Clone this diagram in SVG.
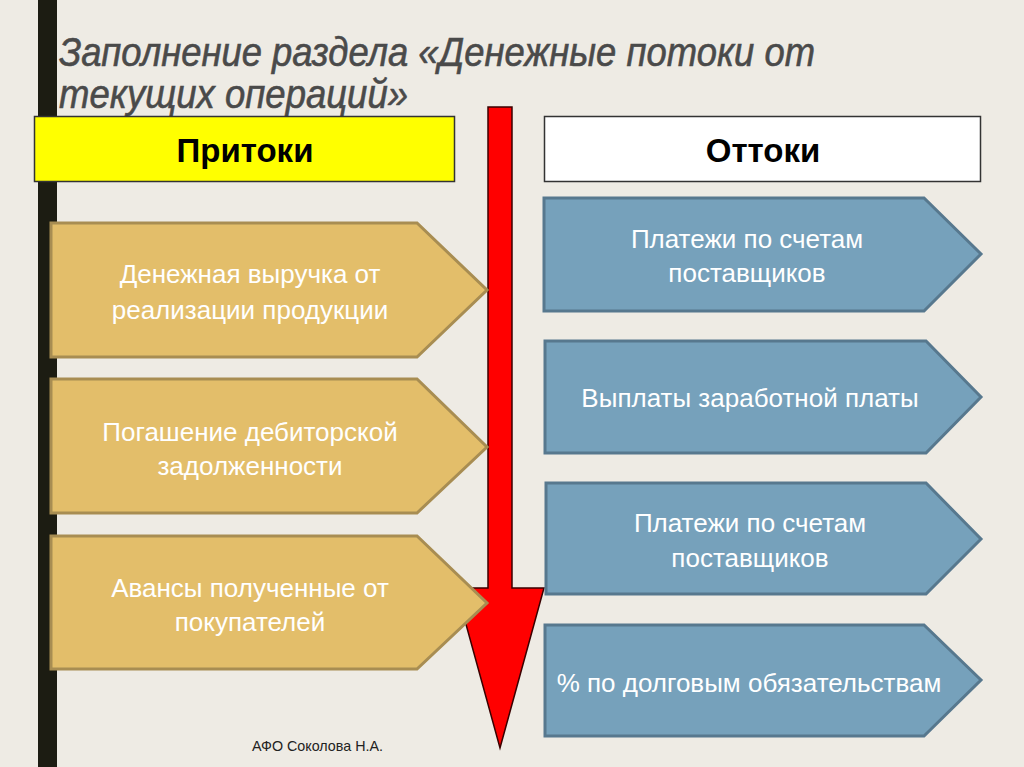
<svg xmlns="http://www.w3.org/2000/svg" width="1024" height="767" viewBox="0 0 1024 767">
<style>
.title{font-family:"Liberation Sans",Arial,sans-serif;font-style:italic;font-size:41px;fill:#4A4A4A;stroke:#4A4A4A;stroke-width:0.6}
.hdr{font-family:"Liberation Sans",Arial,sans-serif;font-weight:bold;font-size:33px;fill:#000;text-anchor:middle}
.tan{fill:#E3BE6A;stroke:#A88D52;stroke-width:3}
.blue{fill:#76A1BB;stroke:#57788E;stroke-width:3}
.lbl{font-family:"Liberation Sans",Arial,sans-serif;font-size:26px;fill:#FFFFFF;text-anchor:middle}
.foot{font-family:"Liberation Sans",Arial,sans-serif;font-size:14.3px;fill:#222}
</style>
<rect x="0" y="0" width="1024" height="767" fill="#EEEBE4"/>
<rect x="38" y="0" width="19" height="767" fill="#1C1C12"/>
<g id="title">
<text class="title" x="59" y="66" textLength="756" lengthAdjust="spacingAndGlyphs">Заполнение раздела «Денежные потоки от</text>
<text class="title" x="59" y="108" textLength="349" lengthAdjust="spacingAndGlyphs">текущих операций»</text>
</g>
<g id="hdr-in">
<rect x="34.5" y="116.5" width="420" height="65" fill="#FFFF00" stroke="#333" stroke-width="1.5"/>
<text class="hdr" x="245" y="162">Притоки</text>
</g>
<g id="hdr-out">
<rect x="544.5" y="116.5" width="436" height="65" fill="#FFFFFF" stroke="#333" stroke-width="1.5"/>
<text class="hdr" x="763" y="162">Оттоки</text>
</g>
<g id="connectors">
<polygon points="488,107 512,107 512,588 544,588 500,748 456,588 488,588" fill="#FF0000" stroke="#3A0000" stroke-width="1.5"/>
</g>
<g id="in1">
<polygon class="tan" points="51,223 417,223 487,290 417,357 51,357"/>
<text class="lbl" x="250" y="283">Денежная выручка от</text>
<text class="lbl" x="250" y="319">реализации продукции</text>
</g>
<g id="in2">
<polygon class="tan" points="51,379 417,379 487,447 417,513 51,513"/>
<text class="lbl" x="250" y="441">Погашение дебиторской</text>
<text class="lbl" x="250" y="475">задолженности</text>
</g>
<g id="in3">
<polygon class="tan" points="51,536 417,536 487,603 417,669 51,669"/>
<text class="lbl" x="250" y="597">Авансы полученные от</text>
<text class="lbl" x="250" y="631">покупателей</text>
</g>
<g id="out1">
<polygon class="blue" points="544,198 924,198 981,254 924,311 544,311"/>
<text class="lbl" x="747" y="248">Платежи по счетам</text>
<text class="lbl" x="747" y="282">поставщиков</text>
</g>
<g id="out2">
<polygon class="blue" points="545,341 926,341 981,397 926,453 545,453"/>
<text class="lbl" x="750" y="407">Выплаты заработной платы</text>
</g>
<g id="out3">
<polygon class="blue" points="546,483 926,483 981,539 926,594 546,594"/>
<text class="lbl" x="750" y="532">Платежи по счетам</text>
<text class="lbl" x="750" y="567">поставщиков</text>
</g>
<g id="out4">
<polygon class="blue" points="545,625 924,625 981,680 924,736 545,736"/>
<text class="lbl" x="749" y="692">% по долговым обязательствам</text>
</g>
<g id="footer">
<text class="foot" x="252" y="751">АФО Соколова Н.А.</text>
</g>
</svg>
